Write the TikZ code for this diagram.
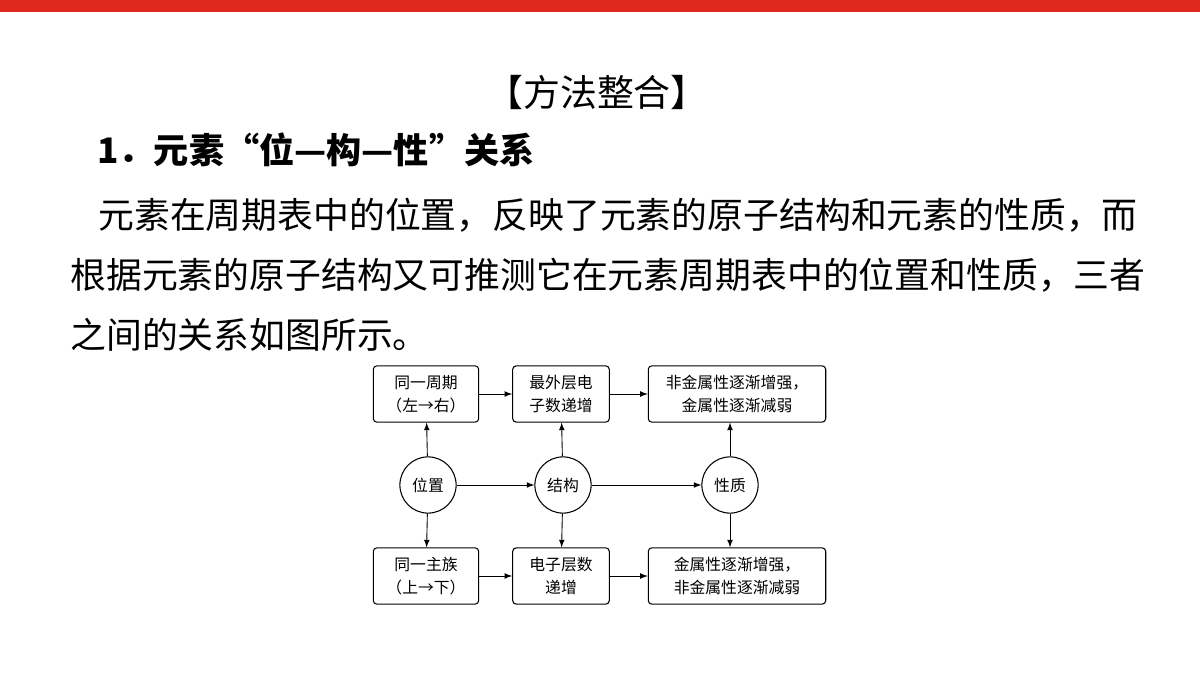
\documentclass[tikz,border=0pt]{standalone}
\usepackage{fontspec}
\setmainfont{Liberation Serif}
\newfontfamily\cjk{Noto Sans CJK SC}
\usetikzlibrary{positioning}
\definecolor{barred}{RGB}{222, 40, 30}
\tikzset{
  fbox/.style={draw, rounded corners=2pt, line width=0.6pt, font=\cjk\fontsize{9}{13}\selectfont, align=center},
  fcirc/.style={circle, draw, line width=0.6pt, minimum size=32pt, inner sep=0pt, font=\cjk\fontsize{9}{11}\selectfont},
  farr/.style={-latex, line width=0.5pt}
}
\begin{document}
\begin{tikzpicture}[x=0.02cm, y=-0.02cm]
\useasboundingbox (0,0) rectangle (1200,675);
\fill[barred] (0,0) rectangle (1200,12);
\node (title) [font=\cjk\fontsize{21}{24}\selectfont] at (597,92) {【方法整合】};
\node (head) [anchor=west, inner sep=0pt, font=\cjk\bfseries\fontsize{20}{24}\selectfont] at (97,150) {1．元素“位—构—性”关系};
\node (l1) [anchor=west, font=\cjk\fontsize{20.4}{24}\selectfont, inner sep=0pt] at (98,215) {元素在周期表中的位置，反映了元素的原子结构和元素的性质，而};
\node (l2) [anchor=west, font=\cjk\fontsize{20.4}{24}\selectfont, inner sep=0pt] at (70,275) {根据元素的原子结构又可推测它在元素周期表中的位置和性质，三者};
\node (l3) [anchor=west, font=\cjk\fontsize{20.4}{24}\selectfont, inner sep=0pt] at (70,335) {之间的关系如图所示。};
% circles
\node (pos) [fcirc] at (428,485) {位置};
\node (str) [fcirc] at (563,485) {结构};
\node (pro) [fcirc] at (730,485) {性质};
% top boxes
\node (t1) [fbox, minimum width=60pt, minimum height=32pt] at (426,394) {同一周期\\（左→右）};
\node (t2) [fbox, minimum width=55pt, minimum height=32pt] at (561,394) {最外层电\\子数递增};
\node (t3) [fbox, minimum width=101pt, minimum height=32pt] at (737,394) {非金属性逐渐增强，\\金属性逐渐减弱};
% bottom boxes
\node (b1) [fbox, minimum width=60pt, minimum height=32pt] at (426,576) {同一主族\\（上→下）};
\node (b2) [fbox, minimum width=55pt, minimum height=32pt] at (561,576) {电子层数\\递增};
\node (b3) [fbox, minimum width=101pt, minimum height=32pt] at (737,576) {金属性逐渐增强，\\非金属性逐渐减弱};
\draw [farr] (pos) -- (str);
\draw [farr] (str) -- (pro);
\draw [farr] (pos) -- (t1);
\draw [farr] (pos) -- (b1);
\draw [farr] (str) -- (t2);
\draw [farr] (str) -- (b2);
\draw [farr] (pro) -- (pro |- t3.south);
\draw [farr] (pro) -- (pro |- b3.north);
\draw [farr] (t1) -- (t2);
\draw [farr] (t2) -- (t3);
\draw [farr] (b1) -- (b2);
\draw [farr] (b2) -- (b3);
\end{tikzpicture}
\end{document}
